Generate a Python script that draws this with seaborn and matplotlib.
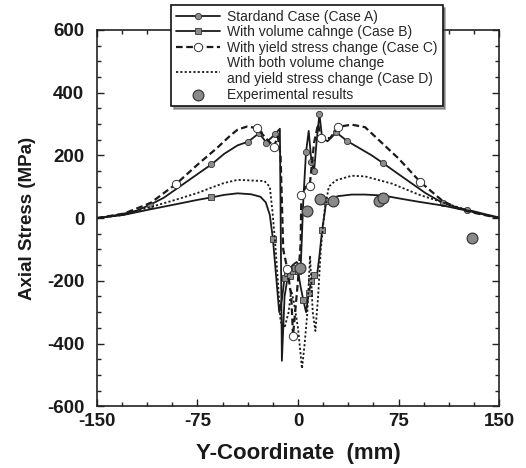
import numpy as np
import pandas as pd
import matplotlib
matplotlib.use("Agg")
import matplotlib.pyplot as plt
import seaborn as sns

sns.set_style("ticks")
plt.rcParams['font.family'] = ['Liberation Sans', 'DejaVu Sans']
plt.rcParams['axes.unicode_minus'] = False

# Case A - standard case
xa = [-150, -140, -130, -120, -110, -100, -90, -80, -70, -64.5, -55, -45, -37, -29, -23.6, -17,
      -13.5, -12, -10, -7, -4, -1, 2, 4, 6, 8, 10, 12, 14, 16, 18, 22, 28.6, 36.6, 45, 55,
      63.5, 75, 85, 95, 108, 120, 126, 140, 150]
ya = [0, 6, 14, 24, 43, 65, 95, 125, 155, 171, 205, 232, 244, 271, 241, 268,
      285, -455, -250, -170, -150, -140, -160, 60, 210, 278, 180, 150, 250, 332, 255, 245, 273, 246, 225, 200,
      175, 140, 110, 80, 48, 32, 27, 12, 2]

# Case B - volume change
xb = [-150, -130, -110, -90, -75, -64.5, -55, -45, -35, -28, -24, -21, -18.7, -16, -14, -12, -10,
      -8, -6, -4, -2, 0, 2, 4, 6, 8, 10, 12, 14, 16, 18, 20, 21, 24, 30, 40, 50, 63.5, 75, 90,
      108, 130, 150]
yb = [0, 10, 28, 45, 58, 66, 74, 79, 76, 68, 50, 10, -66, -200, -300, -260, -190,
      -175, -185, -170, -160, -170, -220, -262, -300, -240, -200, -180, -190, -120, -38, 20, 53, 62, 70, 75, 75, 72, 63, 52,
      40, 20, 0]

# Case C - yield stress change
xc = [-150, -130, -110, -90.8, -75, -60, -50, -45, -38, -30.6, -25, -18, -15, -13, -11, -8, -5,
      -3.7, 0, 2, 2.5, 6, 8.7, 12, 15, 17, 24, 30, 40, 50, 60, 75, 91, 108, 120, 130, 150]
yc = [0, 14, 48, 109, 170, 225, 265, 282, 292, 287, 260, 228, 260, 200, -100, -161, -250,
      -375, -200, -80, 75, 100, 102, 240, 300, 255, 255, 291, 298, 290, 250, 190, 116, 54, 30, 18, 0]

# Case D - volume and yield stress change
xd = [-150, -130, -110, -90, -75, -63.4, -55, -45, -35, -25, -21, -19, -17, -15, -13, -10, -7,
      -5, -3, 0, 3, 5, 7, 9, 11, 13, 15, 17, 20, 23, 28, 40, 50, 70, 90, 108, 130, 150]
yd = [0, 10, 35, 60, 80, 99, 112, 122, 120, 118, 100, 20, -80, -200, -330, -350, -300,
      -230, -270, -350, -480, -400, -300, -120, -300, -360, -250, -100, 30, 100, 120, 135, 133, 110, 75, 50, 20, 0]

# experimental results
xe = [1.5, 6.5, 16.4, 26, 60.5, 63.5, 130]
ye = [-158, 22, 60, 54, 56, 64, -64]

fig, ax = plt.subplots(figsize=(5.26, 4.68), dpi=100)
fig.subplots_adjust(left=0.184, right=0.949, top=0.936, bottom=0.132)

line_col = '#1a1a1a'
mark_col = '#8c8c8c'

sns.lineplot(x=xa, y=ya, ax=ax, sort=False, estimator=None, color=line_col, lw=1.3,
             marker='o', ms=4.5, mfc=mark_col, mec='#333333', mew=0.6,
             markevery=[4, 9, 12, 13, 14, 15, 22, 24, 26, 27, 29, 30, 32, 33, 36, 40, 42],
             label='Stardand Case (Case A)')
sns.lineplot(x=xb, y=yb, ax=ax, sort=False, estimator=None, color=line_col, lw=1.3,
             marker='s', ms=5, mfc=mark_col, mec='#333333', mew=0.6,
             markevery=[5, 12, 16, 17, 18, 19, 20, 21, 23, 25, 26, 27, 30, 32, 37],
             label='With volume cahnge (Case B)')
sns.lineplot(x=xc, y=yc, ax=ax, sort=False, estimator=None, color=line_col, lw=1.6,
             linestyle=(0, (3, 1.6)), marker='o', ms=6, mfc='white', mec='#333333', mew=0.7,
             markevery=[3, 9, 11, 15, 17, 20, 22, 25, 27, 32],
             label='With yield stress change (Case C)')
sns.lineplot(x=xd, y=yd, ax=ax, sort=False, estimator=None, color=line_col, lw=1.3,
             linestyle=(0, (1.2, 1.2)),
             label='With both volume change\nand yield stress change (Case D)')
sns.scatterplot(x=xe, y=ye, ax=ax, s=60, color='#8a8a8a', edgecolor='#3a3a3a', linewidth=0.9,
                zorder=5, label='Experimental results')

ax.set_xlim(-150, 150)
ax.set_ylim(-600, 600)
ax.set_xticks([-150, -75, 0, 75, 150])
ax.set_yticks([-600, -400, -200, 0, 200, 400, 600])
ax.set_xticks(np.arange(-150, 151, 18.75), minor=True)
ax.set_yticks(np.arange(-600, 601, 50), minor=True)
ax.tick_params(which='both', direction='in', top=True, right=True, width=1.0, color='#222222')
ax.tick_params(which='major', length=5, labelsize=13.5)
ax.tick_params(axis='y', which='major', pad=9)
ax.tick_params(axis='x', which='major', pad=5)
ax.tick_params(which='minor', length=3)
for lab in ax.get_xticklabels() + ax.get_yticklabels():
    lab.set_fontweight('bold')
    lab.set_color('#1a1a1a')
for sp in ax.spines.values():
    sp.set_linewidth(1.2)
    sp.set_color('#222222')

ax.set_xlabel('Y-Coordinate  (mm)', fontsize=16, fontweight='bold', color='#1a1a1a', labelpad=9)
ax.set_ylabel('Axial Stress (MPa)', fontsize=13.5, fontweight='bold', color='#1a1a1a', labelpad=8)

handles, labels = ax.get_legend_handles_labels()
ax.get_legend().remove()
leg = fig.legend(handles, labels, loc='upper left', bbox_to_anchor=(171 / 526, 1 - 5 / 468),
                 fontsize=10, frameon=True, fancybox=False, shadow=True, handlelength=3.2,
                 handletextpad=0.5, labelspacing=0.1, borderpad=0.35, borderaxespad=0)
leg.get_frame().set_edgecolor('#111111')
leg.get_frame().set_linewidth(1.2)
leg.set_zorder(10)

plt.savefig('out.png', dpi=100)
